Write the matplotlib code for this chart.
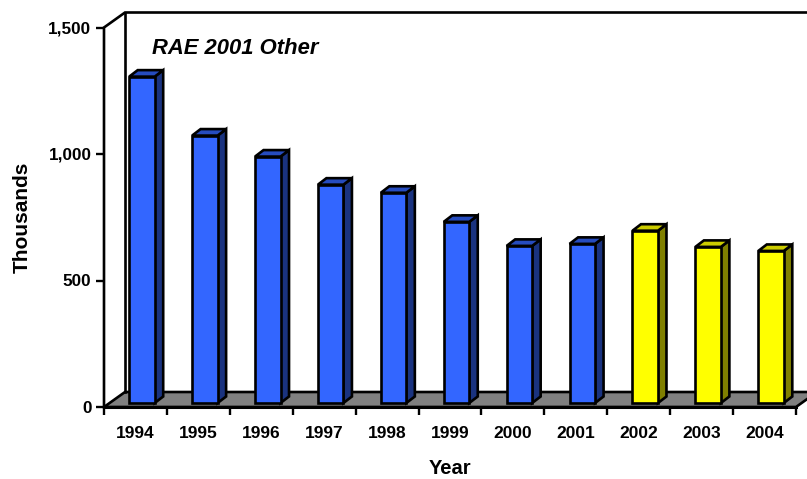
import matplotlib
matplotlib.use("Agg")
import matplotlib.pyplot as plt
from matplotlib.patches import Polygon

plt.rcParams['font.family'] = ['Liberation Sans', 'DejaVu Sans']

years = ['1994', '1995', '1996', '1997', '1998', '1999', '2000', '2001', '2002', '2003', '2004']
blue_values = [1290, 1057, 974, 863, 831, 716, 621, 629]
yellow_values = [681, 617, 601]
y_ticks = [0, 500, 1000, 1500]
y_labels = ['0', '500', '1,000', '1,500']

W, H = 807, 479
# plot frame in pixels: front left at x=104, zero at y=407, 1500 at y=27
ax_left, ax_right, ax_bottom, ax_top = 104, 796, 407, 27.5

fig = plt.figure(figsize=(W / 100, H / 100), dpi=100)
ax = fig.add_axes([ax_left / W, 1 - ax_bottom / H, (ax_right - ax_left) / W, (ax_bottom - ax_top) / H])
n = len(years)
ax.set_xlim(0, n)
ax.set_ylim(0, 1500)
ax.patch.set_visible(False)
for s in ax.spines.values():
    s.set_visible(False)

px_x = n / (ax_right - ax_left)
px_y = 1500 / (ax_bottom - ax_top)
# depth of the 3D box
depth_x = 21 * px_x
depth_y = 15 * px_y
LW = 1.9

# floor
ax.add_patch(Polygon([(0, 0), (n, 0), (n + depth_x, depth_y), (depth_x, depth_y)], closed=True,
                     facecolor='#808080', edgecolor='black', lw=LW, clip_on=False, zorder=1))
# walls
ax.plot([0, 0, depth_x, n + depth_x], [0, 1500, 1500 + depth_y, 1500 + depth_y], color='black', lw=LW,
        clip_on=False, zorder=1, solid_joinstyle='miter')
ax.plot([depth_x, depth_x], [depth_y, 1500 + depth_y], color='black', lw=LW, clip_on=False, zorder=1)
ax.plot([0, n], [0, 0], color='black', lw=LW + 0.3, clip_on=False, zorder=2)

# bars
values = blue_values + yellow_values
front = ['#3366FF'] * len(blue_values) + ['#FFFF00'] * len(yellow_values)
side = ['#1A3380'] * len(blue_values) + ['#808000'] * len(yellow_values)
top = ['#264CBF'] * len(blue_values) + ['#CCCC00'] * len(yellow_values)

bar_w = 25.5 * px_x
bar_dx = 8.5 * px_x
bar_dy = 6.5 * px_y
shift_x = 6.5 * px_x
base = 4 * px_y

for i, v in enumerate(values):
    x0 = i + 0.5 + shift_x - bar_w / 2
    x1 = x0 + bar_w
    y1 = base + v
    ax.add_patch(Polygon([(x1, base), (x1 + bar_dx, base + bar_dy), (x1 + bar_dx, y1 + bar_dy), (x1, y1)],
                         closed=True, facecolor=side[i], edgecolor='black', lw=LW, zorder=3, clip_on=False))
    ax.add_patch(Polygon([(x0, y1), (x1, y1), (x1 + bar_dx, y1 + bar_dy), (x0 + bar_dx, y1 + bar_dy)],
                         closed=True, facecolor=top[i], edgecolor='black', lw=LW, zorder=3, clip_on=False))
    ax.bar(i + 0.5 + shift_x, v, width=bar_w, bottom=base, color=front[i], edgecolor='black', lw=LW, zorder=4)

# ticks
ax.set_yticks(y_ticks)
ax.set_yticklabels(y_labels, fontsize=12.3, fontweight='bold')
ax.set_xticks(range(n + 1))
ax.set_xticklabels([])
ax.set_xticks([i + 0.5 for i in range(n)], minor=True)
ax.set_xticklabels(years, minor=True, fontsize=12.5, fontweight='bold')
ax.tick_params(axis='x', which='major', length=5.5, width=1.7, direction='out')
ax.tick_params(axis='x', which='minor', length=0, pad=14)
ax.tick_params(axis='y', length=5.5, width=1.7, direction='out', pad=3.5)

fig.text(22 / W, 1 - 217 / H, 'Thousands', rotation=90, ha='center', va='center', fontsize=15, fontweight='bold')
fig.text(450 / W, 1 - 474.5 / H, 'Year', ha='center', va='baseline', fontsize=14.5, fontweight='bold')
fig.text(152 / W, 1 - 48.5 / H, 'RAE 2001 Other', ha='left', va='center', fontsize=15.8, fontweight='bold', style='italic')

fig.savefig('out.png', dpi=100)
